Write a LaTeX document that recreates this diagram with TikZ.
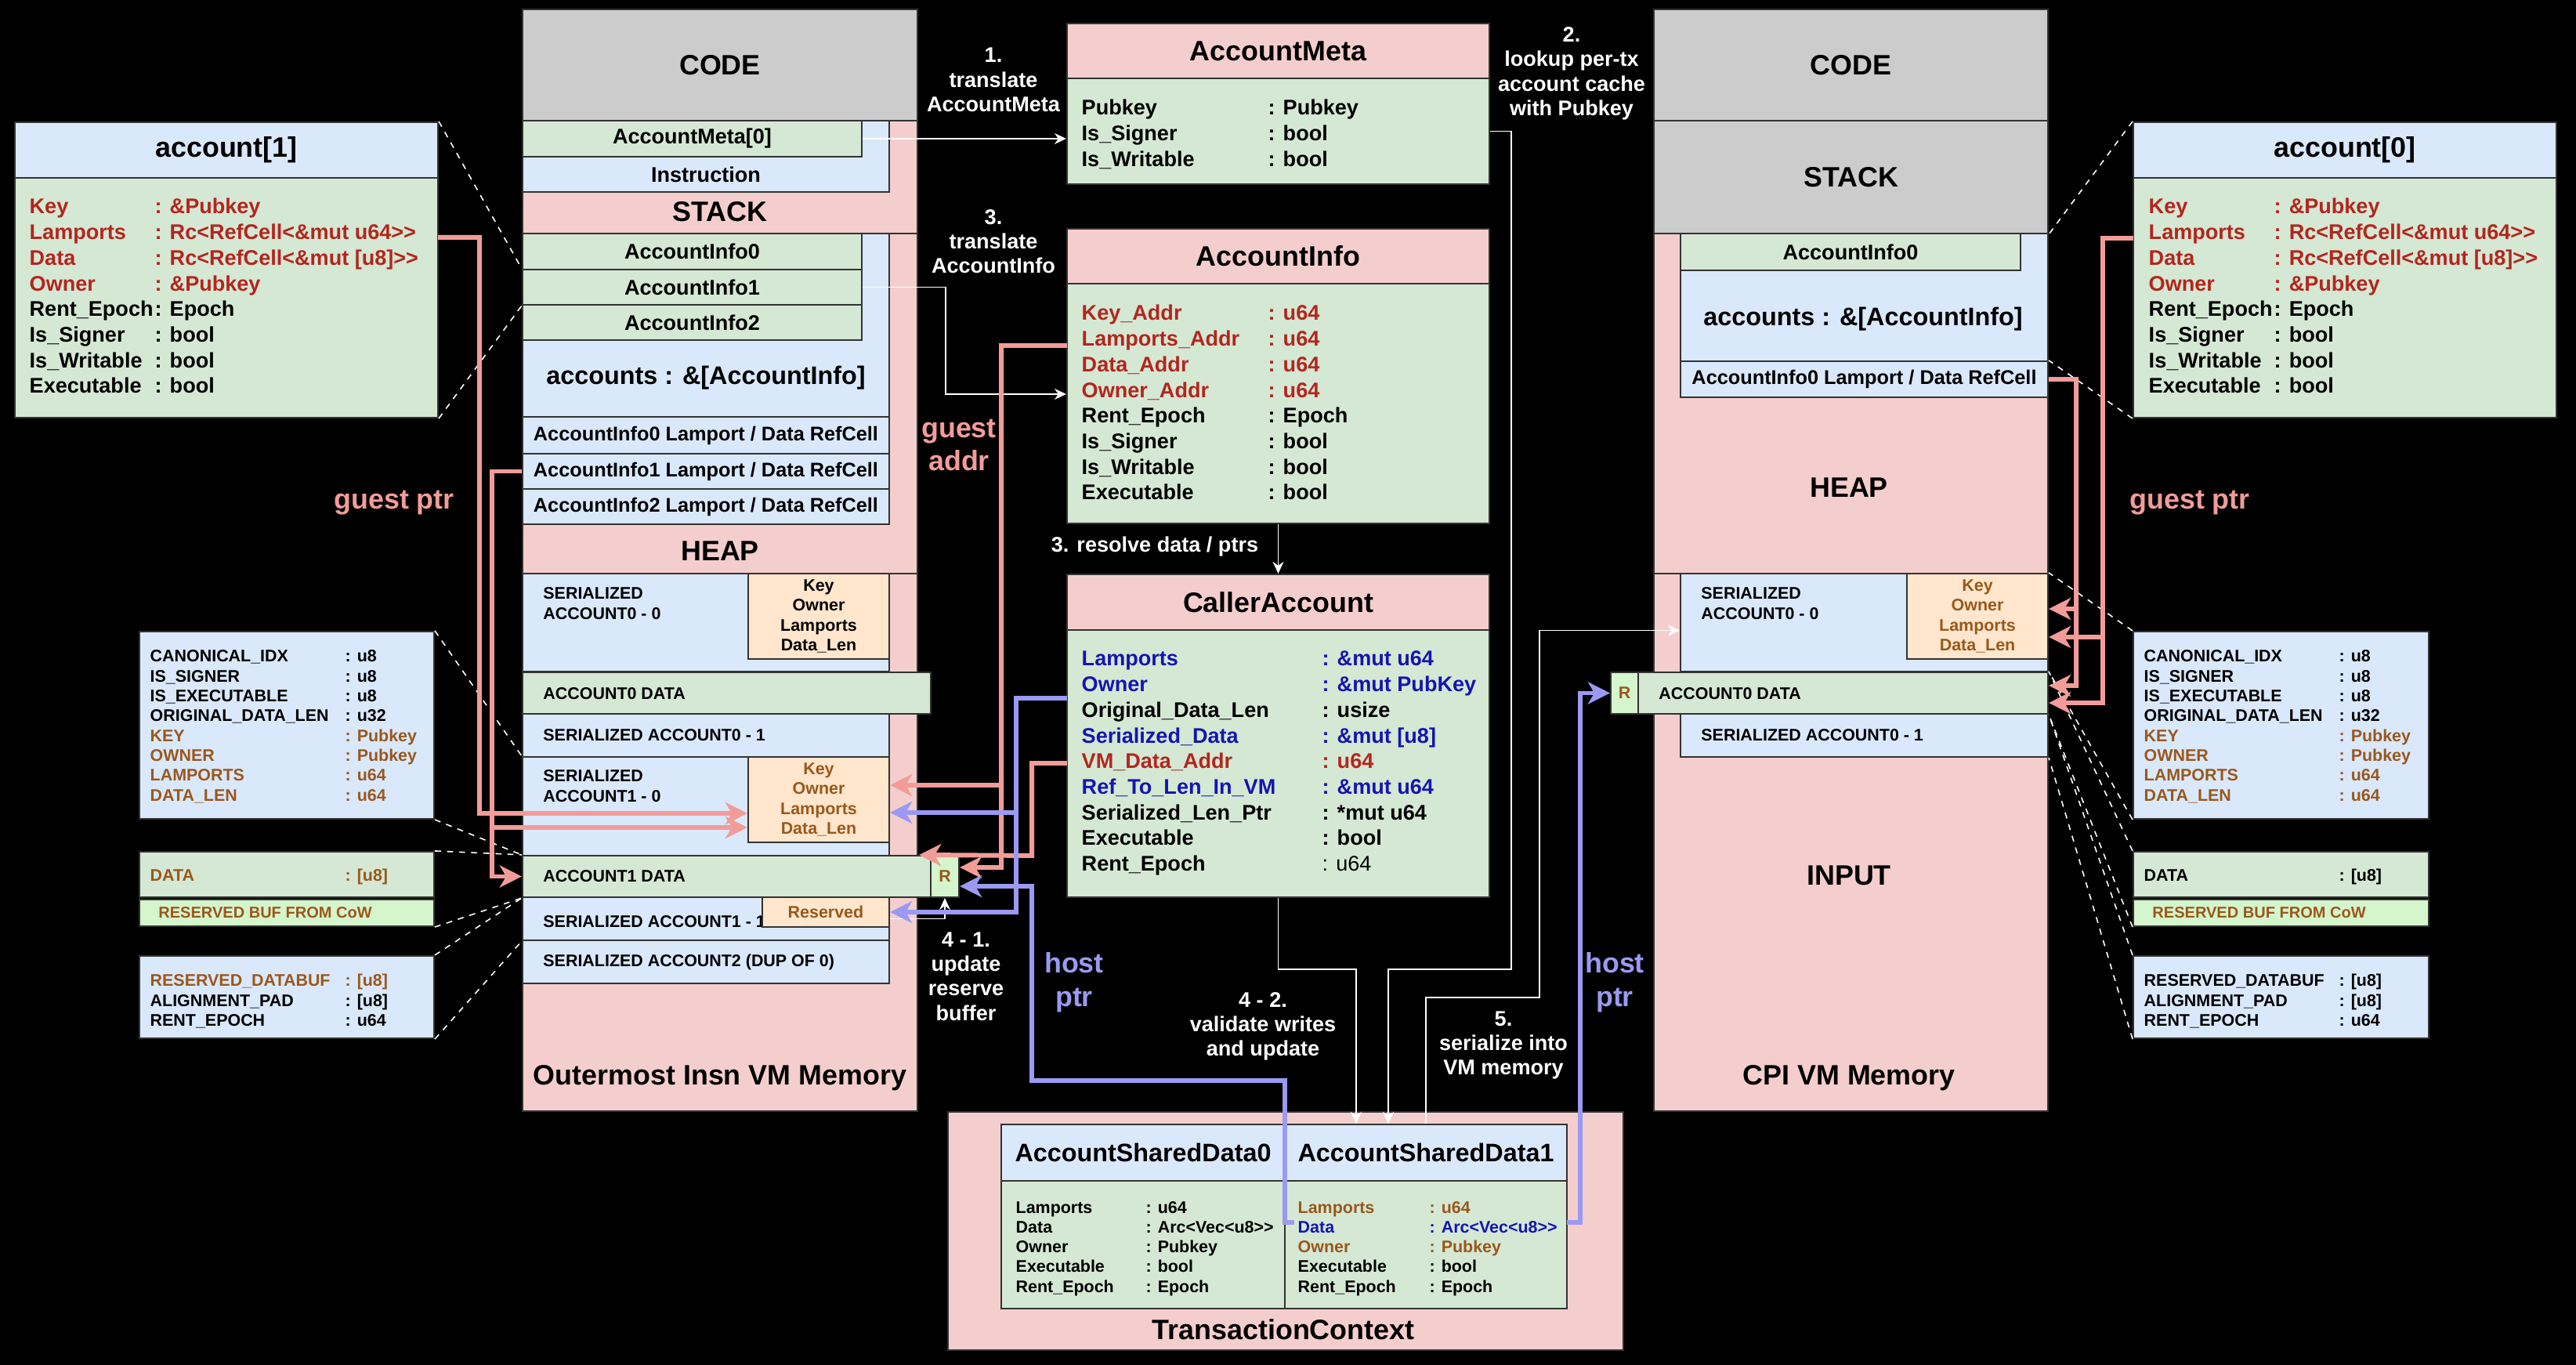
\documentclass[tikz,border=0pt]{standalone}
\usepackage{fontspec}
\setmainfont{Liberation Sans}
\usepackage{xcolor}
\usepackage{tikz}
\usetikzlibrary{arrows.meta, fit}
\definecolor{pinkc}{HTML}{F4CECC}
\definecolor{grayc}{HTML}{CCCCCC}
\definecolor{bluec}{HTML}{DAE8FC}
\definecolor{greenc}{HTML}{D5E8D4}
\definecolor{orangec}{HTML}{FFE6CC}
\definecolor{limec}{HTML}{D5F5CC}
\definecolor{redt}{HTML}{B3261E}
\definecolor{brownt}{HTML}{99581C}
\definecolor{bluet}{HTML}{1515B0}
\definecolor{pinka}{HTML}{F19C99}
\definecolor{bluea}{HTML}{9A9AF2}

\begin{document}
\begin{tikzpicture}[x=1cm, y=-1cm,
    membox/.style={draw=black!80, line width=0.6pt, inner sep=0pt},
    bigtxt/.style={font=\fontsize{10.2}{12}\selectfont\bfseries},
    midtxt/.style={font=\fontsize{9.2}{11}\selectfont\bfseries},
    fldtxt/.style={font=\fontsize{7.7}{9.3}\selectfont\bfseries},
    rctxt/.style={font=\fontsize{7.2}{8.6}\selectfont\bfseries},
    smltxt/.style={font=\fontsize{6.1}{7.2}\selectfont\bfseries},
    sertxt/.style={font=\fontsize{6.1}{7.4}\selectfont\bfseries, align=left, anchor=west},
    tnytxt/.style={font=\fontsize{5.7}{7}\selectfont\bfseries},
    steplbl/.style={text=white, align=center, font=\fontsize{7.7}{8.9}\selectfont\bfseries},
    ptrlbl/.style={align=center, font=\fontsize{10.2}{12.2}\selectfont\bfseries},
    tbl/.style={anchor=base west, inner sep=0pt},
    wline/.style={draw=white, line width=0.5pt, -{Stealth[length=1.5mm,width=1.4mm]}},
    pline/.style={draw=pinka, line width=1.7pt, -{Stealth[length=2.8mm,width=2.8mm,inset=0.8mm]}},
    bline/.style={draw=bluea, line width=1.7pt, -{Stealth[length=2.8mm,width=2.8mm,inset=0.8mm]}},
    dline/.style={draw=white, line width=0.45pt, dash pattern=on 2.2pt off 2.2pt}]

    % 背景
    \fill[black] (0,0) rectangle (32.88,17.42);
    \useasboundingbox (0,0) rectangle (32.88,17.42);

    % 左侧内存
    \node[membox, fill=pinkc, fit={(6.67,0.12) (11.71,14.18)}] (lmem) {};
    \node[membox, fill=grayc, fit={(6.67,0.12) (11.71,1.54)}] (lcode) {};
    \node[bigtxt] (lcodet) at (lcode) {CODE};
    \node[membox, fill=bluec, fit={(6.67,1.54) (11.35,2.45)}] (linstr) {};
    \node[membox, fill=greenc, fit={(6.67,1.54) (11.00,2.00)}] (lam0) {};
    \node[fldtxt] (lam0t) at (lam0) {AccountMeta[0]};
    \node[fldtxt] (linstrt) at (9.01,2.23) {Instruction};
    \node[bigtxt] (lstackt) at (9.19,2.70) {STACK};
    \node[membox, fill=pinkc, fit={(6.67,2.98) (11.71,14.18)}] (lstk) {};
    \node[membox, fill=bluec, fit={(6.67,2.98) (11.35,5.32)}] (laccs) {};
    \node[membox, fill=greenc, fit={(6.67,2.98) (11.00,3.44)}] (lai0) {};
    \node[membox, fill=greenc, fit={(6.67,3.44) (11.00,3.89)}] (lai1) {};
    \node[membox, fill=greenc, fit={(6.67,3.89) (11.00,4.34)}] (lai2) {};
    \node[fldtxt] (lai0t) at (lai0) {AccountInfo0};
    \node[fldtxt] (lai1t) at (lai1) {AccountInfo1};
    \node[fldtxt] (lai2t) at (lai2) {AccountInfo2};
    \node[midtxt] (laccst) at (9.01,4.82) {accounts : \&[AccountInfo]};
    \node[membox, fill=bluec, fit={(6.67,5.32) (11.35,5.79)}] (lrc0) {};
    \node[membox, fill=bluec, fit={(6.67,5.79) (11.35,6.24)}] (lrc1) {};
    \node[membox, fill=bluec, fit={(6.67,6.24) (11.35,6.69)}] (lrc2) {};
    \node[rctxt] (lrc0t) at (lrc0) {AccountInfo0 Lamport / Data RefCell};
    \node[rctxt] (lrc1t) at (lrc1) {AccountInfo1 Lamport / Data RefCell};
    \node[rctxt] (lrc2t) at (lrc2) {AccountInfo2 Lamport / Data RefCell};
    \node[bigtxt] (lheapt) at (9.19,7.03) {HEAP};
    \node[membox, fill=pinkc, fit={(6.67,7.32) (11.71,14.18)}] (lheap) {};
    \node[membox, fill=bluec, fit={(6.67,7.32) (11.35,8.57)}] (ls00) {};
    \node[sertxt] (ls00t) at (6.81,7.70) {SERIALIZED\\ACCOUNT0 - 0};
    \node[membox, fill=orangec, fit={(9.55,7.32) (11.35,8.41)}] (lk00) {};
    \node[smltxt, align=center] (lk00t) at (lk00) {Key\\Owner\\Lamports\\Data\_Len};
    \node[membox, fill=greenc, fit={(6.67,8.58) (11.88,9.11)}] (lad0) {};
    \node[sertxt] (lad0t) at (6.81,8.85) {ACCOUNT0 DATA};
    \node[membox, fill=bluec, fit={(6.67,9.11) (11.35,9.66)}] (ls01) {};
    \node[sertxt] (ls01t) at (6.81,9.38) {SERIALIZED ACCOUNT0 - 1};
    \node[membox, fill=bluec, fit={(6.67,9.66) (11.35,10.92)}] (ls10) {};
    \node[sertxt] (ls10t) at (6.81,10.03) {SERIALIZED\\ACCOUNT1 - 0};
    \node[membox, fill=orangec, fit={(9.55,9.66) (11.35,10.75)}] (lk10) {};
    \node[smltxt, align=center, text=brownt] (lk10t) at (lk10) {Key\\Owner\\Lamports\\Data\_Len};
    \node[membox, fill=greenc, fit={(6.67,10.92) (11.88,11.45)}] (lad1) {};
    \node[sertxt] (lad1t) at (6.81,11.18) {ACCOUNT1 DATA};
    \node[membox, fill=limec, fit={(11.88,10.92) (12.24,11.45)}] (lr1) {};
    \node[smltxt, text=brownt] (lr1t) at (lr1) {R};
    \node[membox, fill=bluec, fit={(6.67,11.45) (11.35,12.00)}] (ls11) {};
    \node[sertxt] (ls11t) at (6.81,11.76) {SERIALIZED ACCOUNT1 - 1};
    \node[membox, fill=orangec, fit={(9.73,11.45) (11.35,11.83)}] (lres) {};
    \node[smltxt, text=brownt] (lrest) at (lres) {Reserved};
    \node[membox, fill=bluec, fit={(6.67,12.00) (11.35,12.55)}] (ls2) {};
    \node[sertxt] (ls2t) at (6.81,12.28) {SERIALIZED ACCOUNT2 (DUP OF 0)};
    \node[bigtxt] (lmemt) at (9.19,13.76) {Outermost Insn VM Memory};

    % account[1]
    \node[membox, fill=bluec, fit={(0.19,1.56) (5.59,2.27)}] (acc1h) {};
    \node[bigtxt] (acc1t) at (acc1h) {account[1]};
    \node[membox, fill=greenc, fit={(0.19,2.27) (5.59,5.33)}] (acc1b) {};
    \node[fldtxt, tbl] (acc1f) at (0.37,2.73) {\begin{tabular}[t]{@{}l@{}}
        \color{redt}\makebox[1.6cm][l]{Key}: \&Pubkey\\
        \color{redt}\makebox[1.6cm][l]{Lamports}: Rc<RefCell<\&mut u64>{}>\\
        \color{redt}\makebox[1.6cm][l]{Data}: Rc<RefCell<\&mut [u8]>{}>\\
        \color{redt}\makebox[1.6cm][l]{Owner}: \&Pubkey\\
        \makebox[1.6cm][l]{Rent\_Epoch}: Epoch\\
        \makebox[1.6cm][l]{Is\_Signer}: bool\\
        \makebox[1.6cm][l]{Is\_Writable}: bool\\
        \makebox[1.6cm][l]{Executable}: bool
    \end{tabular}};

    % 左侧序列化字段
    \node[membox, fill=bluec, fit={(1.78,8.06) (5.54,10.45)}] (lba) {};
    \node[smltxt, tbl] (lbaf) at (1.91,8.45) {\begin{tabular}[t]{@{}l@{}}
        \makebox[2.49cm][l]{CANONICAL\_IDX}: u8\\
        \makebox[2.49cm][l]{IS\_SIGNER}: u8\\
        \makebox[2.49cm][l]{IS\_EXECUTABLE}: u8\\
        \makebox[2.49cm][l]{ORIGINAL\_DATA\_LEN}: u32\\
        \color{brownt}\makebox[2.49cm][l]{KEY}: Pubkey\\
        \color{brownt}\makebox[2.49cm][l]{OWNER}: Pubkey\\
        \color{brownt}\makebox[2.49cm][l]{LAMPORTS}: u64\\
        \color{brownt}\makebox[2.49cm][l]{DATA\_LEN}: u64
    \end{tabular}};
    \node[membox, fill=greenc, fit={(1.78,10.87) (5.54,11.45)}] (lbb) {};
    \node[smltxt, tbl, text=brownt] (lbbf) at (1.91,11.25) {\makebox[2.49cm][l]{DATA}: [u8]};
    \node[membox, fill=limec, fit={(1.78,11.48) (5.54,11.82)}] (lbc) {};
    \node[tnytxt, anchor=west, text=brownt] (lbct) at (1.90,11.65) {RESERVED BUF FROM CoW};
    \node[membox, fill=bluec, fit={(1.78,12.20) (5.54,13.25)}] (lbd) {};
    \node[smltxt, tbl] (lbdf) at (1.91,12.59) {\begin{tabular}[t]{@{}l@{}}
        \color{brownt}\makebox[2.49cm][l]{RESERVED\_DATABUF}: [u8]\\
        \makebox[2.49cm][l]{ALIGNMENT\_PAD}: [u8]\\
        \makebox[2.49cm][l]{RENT\_EPOCH}: u64
    \end{tabular}};

    % AccountMeta
    \node[membox, fill=pinkc, fit={(13.62,0.30) (19.01,1.00)}] (ametah) {};
    \node[bigtxt] (ametat) at (ametah) {AccountMeta};
    \node[membox, fill=greenc, fit={(13.62,1.00) (19.01,2.35)}] (ametab) {};
    \node[fldtxt, tbl] (ametaf) at (13.80,1.47) {\begin{tabular}[t]{@{}l@{}}
        \makebox[2.38cm][l]{Pubkey}: Pubkey\\
        \makebox[2.38cm][l]{Is\_Signer}: bool\\
        \makebox[2.38cm][l]{Is\_Writable}: bool
    \end{tabular}};

    % AccountInfo
    \node[membox, fill=pinkc, fit={(13.62,2.92) (19.01,3.62)}] (ainfoh) {};
    \node[bigtxt] (ainfot) at (ainfoh) {AccountInfo};
    \node[membox, fill=greenc, fit={(13.62,3.62) (19.01,6.68)}] (ainfob) {};
    \node[fldtxt, tbl] (ainfof) at (13.80,4.09) {\begin{tabular}[t]{@{}l@{}}
        \color{redt}\makebox[2.38cm][l]{Key\_Addr}: u64\\
        \color{redt}\makebox[2.38cm][l]{Lamports\_Addr}: u64\\
        \color{redt}\makebox[2.38cm][l]{Data\_Addr}: u64\\
        \color{redt}\makebox[2.38cm][l]{Owner\_Addr}: u64\\
        \makebox[2.38cm][l]{Rent\_Epoch}: Epoch\\
        \makebox[2.38cm][l]{Is\_Signer}: bool\\
        \makebox[2.38cm][l]{Is\_Writable}: bool\\
        \makebox[2.38cm][l]{Executable}: bool
    \end{tabular}};

    % CallerAccount
    \node[membox, fill=pinkc, fit={(13.62,7.33) (19.01,8.04)}] (callerh) {};
    \node[bigtxt] (callert) at (callerh) {CallerAccount};
    \node[membox, fill=greenc, fit={(13.62,8.04) (19.01,11.45)}] (callerb) {};
    \node[fldtxt, tbl] (callerf) at (13.80,8.50) {\begin{tabular}[t]{@{}l@{}}
        \color{bluet}\makebox[3.07cm][l]{Lamports}: \&mut u64\\
        \color{bluet}\makebox[3.07cm][l]{Owner}: \&mut PubKey\\
        \makebox[3.07cm][l]{Original\_Data\_Len}: usize\\
        \color{bluet}\makebox[3.07cm][l]{Serialized\_Data}: \&mut [u8]\\
        \color{redt}\makebox[3.07cm][l]{VM\_Data\_Addr}: u64\\
        \color{bluet}\makebox[3.07cm][l]{Ref\_To\_Len\_In\_VM}: \&mut u64\\
        \makebox[3.07cm][l]{Serialized\_Len\_Ptr}: *mut u64\\
        \makebox[3.07cm][l]{Executable}: bool\\
        \makebox[3.07cm][l]{Rent\_Epoch}{\mdseries : u64}
    \end{tabular}};

    % TransactionContext
    \node[membox, fill=pinkc, fit={(12.10,14.19) (20.72,17.23)}] (txc) {};
    \node[bigtxt] (txct) at (16.38,16.97) {TransactionContext};
    \node[membox, fill=bluec, fit={(12.78,14.35) (16.40,15.07)}] (asd0h) {};
    \node[membox, fill=bluec, fit={(16.40,14.35) (20.00,15.07)}] (asd1h) {};
    \node[midtxt] (asd0t) at (asd0h) {AccountSharedData0};
    \node[midtxt] (asd1t) at (asd1h) {AccountSharedData1};
    \node[membox, fill=greenc, fit={(12.78,15.07) (16.40,16.70)}] (asd0b) {};
    \node[membox, fill=greenc, fit={(16.40,15.07) (20.00,16.70)}] (asd1b) {};
    \node[smltxt, tbl] (asd0f) at (12.96,15.48) {\begin{tabular}[t]{@{}l@{}}
        \makebox[1.66cm][l]{Lamports}: u64\\
        \makebox[1.66cm][l]{Data}: Arc<Vec<u8>{}>\\
        \makebox[1.66cm][l]{Owner}: Pubkey\\
        \makebox[1.66cm][l]{Executable}: bool\\
        \makebox[1.66cm][l]{Rent\_Epoch}: Epoch
    \end{tabular}};
    \node[smltxt, tbl] (asd1f) at (16.56,15.48) {\begin{tabular}[t]{@{}l@{}}
        \color{brownt}\makebox[1.68cm][l]{Lamports}: u64\\
        \color{bluet}\makebox[1.68cm][l]{Data}: Arc<Vec<u8>{}>\\
        \color{brownt}\makebox[1.68cm][l]{Owner}: Pubkey\\
        \makebox[1.68cm][l]{Executable}: bool\\
        \makebox[1.68cm][l]{Rent\_Epoch}: Epoch
    \end{tabular}};

    % 右侧内存
    \node[membox, fill=pinkc, fit={(21.11,0.12) (26.14,14.18)}] (rmem) {};
    \node[membox, fill=grayc, fit={(21.11,0.12) (26.14,1.54)}] (rcode) {};
    \node[bigtxt] (rcodet) at (rcode) {CODE};
    \node[membox, fill=grayc, fit={(21.11,1.54) (26.14,2.98)}] (rstack) {};
    \node[bigtxt] (rstackt) at (rstack) {STACK};
    \node[membox, fill=bluec, fit={(21.45,2.98) (26.14,4.61)}] (raccs) {};
    \node[membox, fill=greenc, fit={(21.45,2.98) (25.79,3.45)}] (rai0) {};
    \node[fldtxt] (rai0t) at (rai0) {AccountInfo0};
    \node[midtxt] (raccst) at (23.78,4.07) {accounts : \&[AccountInfo]};
    \node[membox, fill=bluec, fit={(21.45,4.61) (26.14,5.07)}] (rrc0) {};
    \node[rctxt] (rrc0t) at (rrc0) {AccountInfo0 Lamport / Data RefCell};
    \node[bigtxt] (rheapt) at (23.60,6.22) {HEAP};
    \node[membox, fill=pinkc, fit={(21.11,7.32) (26.14,14.18)}] (rheap) {};
    \node[membox, fill=bluec, fit={(21.45,7.32) (26.14,8.57)}] (rs00) {};
    \node[sertxt] (rs00t) at (21.59,7.70) {SERIALIZED\\ACCOUNT0 - 0};
    \node[membox, fill=orangec, fit={(24.34,7.32) (26.14,8.41)}] (rk00) {};
    \node[smltxt, align=center, text=brownt] (rk00t) at (rk00) {Key\\Owner\\Lamports\\Data\_Len};
    \node[membox, fill=greenc, fit={(20.91,8.58) (26.14,9.11)}] (rad0) {};
    \node[sertxt] (rad0t) at (21.05,8.85) {ACCOUNT0 DATA};
    \node[membox, fill=limec, fit={(20.56,8.58) (20.91,9.11)}] (rr0) {};
    \node[smltxt, text=brownt] (rr0t) at (rr0) {R};
    \node[membox, fill=bluec, fit={(21.45,9.11) (26.14,9.66)}] (rs01) {};
    \node[sertxt] (rs01t) at (21.59,9.38) {SERIALIZED ACCOUNT0 - 1};
    \node[bigtxt] (rinput) at (23.60,11.17) {INPUT};
    \node[bigtxt] (rmemt) at (23.60,13.76) {CPI VM Memory};

    % account[0]
    \node[membox, fill=bluec, fit={(27.23,1.56) (32.63,2.27)}] (acc0h) {};
    \node[bigtxt] (acc0t) at (acc0h) {account[0]};
    \node[membox, fill=greenc, fit={(27.23,2.27) (32.63,5.33)}] (acc0b) {};
    \node[fldtxt, tbl] (acc0f) at (27.42,2.73) {\begin{tabular}[t]{@{}l@{}}
        \color{redt}\makebox[1.6cm][l]{Key}: \&Pubkey\\
        \color{redt}\makebox[1.6cm][l]{Lamports}: Rc<RefCell<\&mut u64>{}>\\
        \color{redt}\makebox[1.6cm][l]{Data}: Rc<RefCell<\&mut [u8]>{}>\\
        \color{redt}\makebox[1.6cm][l]{Owner}: \&Pubkey\\
        \makebox[1.6cm][l]{Rent\_Epoch}: Epoch\\
        \makebox[1.6cm][l]{Is\_Signer}: bool\\
        \makebox[1.6cm][l]{Is\_Writable}: bool\\
        \makebox[1.6cm][l]{Executable}: bool
    \end{tabular}};

    % 右侧序列化字段
    \node[membox, fill=bluec, fit={(27.23,8.06) (31.00,10.45)}] (rba) {};
    \node[smltxt, tbl] (rbaf) at (27.36,8.45) {\begin{tabular}[t]{@{}l@{}}
        \makebox[2.49cm][l]{CANONICAL\_IDX}: u8\\
        \makebox[2.49cm][l]{IS\_SIGNER}: u8\\
        \makebox[2.49cm][l]{IS\_EXECUTABLE}: u8\\
        \makebox[2.49cm][l]{ORIGINAL\_DATA\_LEN}: u32\\
        \color{brownt}\makebox[2.49cm][l]{KEY}: Pubkey\\
        \color{brownt}\makebox[2.49cm][l]{OWNER}: Pubkey\\
        \color{brownt}\makebox[2.49cm][l]{LAMPORTS}: u64\\
        \color{brownt}\makebox[2.49cm][l]{DATA\_LEN}: u64
    \end{tabular}};
    \node[membox, fill=greenc, fit={(27.23,10.87) (31.00,11.45)}] (rbb) {};
    \node[smltxt, tbl] (rbbf) at (27.36,11.25) {\makebox[2.49cm][l]{DATA}: [u8]};
    \node[membox, fill=limec, fit={(27.23,11.48) (31.00,11.82)}] (rbc) {};
    \node[tnytxt, anchor=west, text=brownt] (rbct) at (27.35,11.65) {RESERVED BUF FROM CoW};
    \node[membox, fill=bluec, fit={(27.23,12.20) (31.00,13.25)}] (rbd) {};
    \node[smltxt, tbl] (rbdf) at (27.36,12.59) {\begin{tabular}[t]{@{}l@{}}
        \makebox[2.49cm][l]{RESERVED\_DATABUF}: [u8]\\
        \makebox[2.49cm][l]{ALIGNMENT\_PAD}: [u8]\\
        \makebox[2.49cm][l]{RENT\_EPOCH}: u64
    \end{tabular}};

    % 步骤说明
    \node[steplbl] (s1) at (12.68,1.02) {1.\\translate\\AccountMeta};
    \node[steplbl] (s2) at (20.06,0.94) {2.\\lookup per-tx\\account cache\\with Pubkey};
    \node[steplbl] (s3) at (12.68,3.08) {3.\\translate\\AccountInfo};
    \node[steplbl] (s3r) at (14.74,6.98) {3. resolve data / ptrs};
    \node[steplbl] (s41) at (12.33,12.46) {4 - 1.\\update\\reserve\\buffer};
    \node[steplbl] (s42) at (16.12,13.10) {4 - 2.\\validate writes\\and update};
    \node[steplbl] (s5) at (19.19,13.34) {5.\\serialize into\\VM memory};
    \node[ptrlbl, text=pinka] (gp1) at (5.03,6.42) {guest ptr};
    \node[ptrlbl, text=pinka] (gp2) at (27.95,6.42) {guest ptr};
    \node[ptrlbl, text=pinka] (gaddr) at (12.24,5.68) {guest\\addr};
    \node[ptrlbl, text=bluea] (hp1) at (13.71,12.54) {host\\ptr};
    \node[ptrlbl, text=bluea] (hp2) at (20.61,12.54) {host\\ptr};

    % 虚线
    \draw[dline] (acc1h.north east) -- (lai1.north west);
    \draw[dline] (acc1b.south east) -- (lai1.south west);
    \draw[dline] (lba.north east) -- (ls10.north west);
    \draw[dline] (lba.south east) -- (lad1.north west);
    \draw[dline] (lbb.north east) -- (lad1.north west);
    \draw[dline] (lbc.south east) -- (lad1.south west);
    \draw[dline] (lbd.north east) -- (lad1.south west);
    \draw[dline] (lbd.south east) -- (ls11.south west);
    \draw[dline] (acc0h.north west) -- (rstack.south east);
    \draw[dline] (acc0b.south west) -- (rrc0.north east);
    \draw[dline] (rba.north west) -- (rs00.north east);
    \draw[dline] (rba.south west) -- (rad0.north east);
    \draw[dline] (rbb.north west) -- (rad0.north east);
    \draw[dline] (rbc.south west) -- (rad0.south east);
    \draw[dline] (rbd.north west) -- (rad0.south east);
    \draw[dline] (rbd.south west) -- (rs01.south east);

    % 白色流程
    \draw[wline] (lam0.east) -- (lam0.east -| ametab.west);
    \draw[wline] (lai1.east) -| (12.07,5.03) -- ([yshift=0.12cm]ainfob.west);
    \draw[wline] (ainfob.south) -- (callerh.north);
    \draw[wline] (ametab.east) -| (19.29,12.37) -| ([xshift=-0.48cm]asd1h.north);
    \draw[wline] (callerb.south) |- (17.31,12.37) -| ([xshift=-0.89cm]asd1h.north);
    \draw[wline] (asd1h.north) |- (19.65,12.73) |- ([yshift=-0.1cm]rs00.west);
    \draw[wline] (ls11.east) -| (lr1.south);

    % guest ptr
    \coordinate (a1lam) at (5.59,3.03);
    \coordinate (lbr) at (6.28,10.56);
    \draw[pline] (a1lam) -| (6.12,10.38) -- ([yshift=-0.175cm]lk10.west);
    \draw[pline] (lrc1.west) -| (6.28,11.185) -- (lad1.west);
    \draw[pline] (lbr) -- ([yshift=-0.355cm]lk10.west);
    \coordinate (ailam) at (13.62,4.41);
    \coordinate (gabr) at (12.78,10.02);
    \draw[pline] (ailam) -| (12.78,11.07) -- ([yshift=0.115cm]lr1.east);
    \draw[pline] (gabr) -- ([yshift=0.185cm]lk10.east);
    \coordinate (cavm) at (13.62,9.74);
    \draw[pline] (cavm) -| (13.17,10.92) -- ([xshift=-0.16cm]lad1.north east);
    \coordinate (a0lam) at (27.23,3.04);
    \coordinate (rbr1) at (26.84,8.13);
    \coordinate (rbr2) at (26.50,7.77);
    \draw[pline] (a0lam) -| (26.84,8.97) -- ([yshift=-0.125cm]rad0.east);
    \draw[pline] (rbr1) -- ([yshift=-0.265cm]rk00.east);
    \draw[pline] (rrc0.east) -| (26.50,8.75) -- ([yshift=0.095cm]rad0.east);
    \draw[pline] (rbr2) -- ([yshift=0.095cm]rk00.east);

    % host ptr
    \coordinate (cahost) at (13.62,8.91);
    \coordinate (hbr) at (12.97,10.37);
    \draw[bline] (cahost) -| (12.97,11.64) -- (lres.east);
    \draw[bline] (hbr) -- ([yshift=-0.165cm]lk10.east);
    \coordinate (sd1in) at (16.52,15.60);
    \draw[bline] (sd1in) -- (16.40,15.60) |- (13.17,13.79) |- ([yshift=-0.125cm]lr1.east);
    \coordinate (sd1out) at (20.00,15.60);
    \draw[bline] (sd1out) -| (20.17,8.845) -- (rr0.west);
\end{tikzpicture}
\end{document}
